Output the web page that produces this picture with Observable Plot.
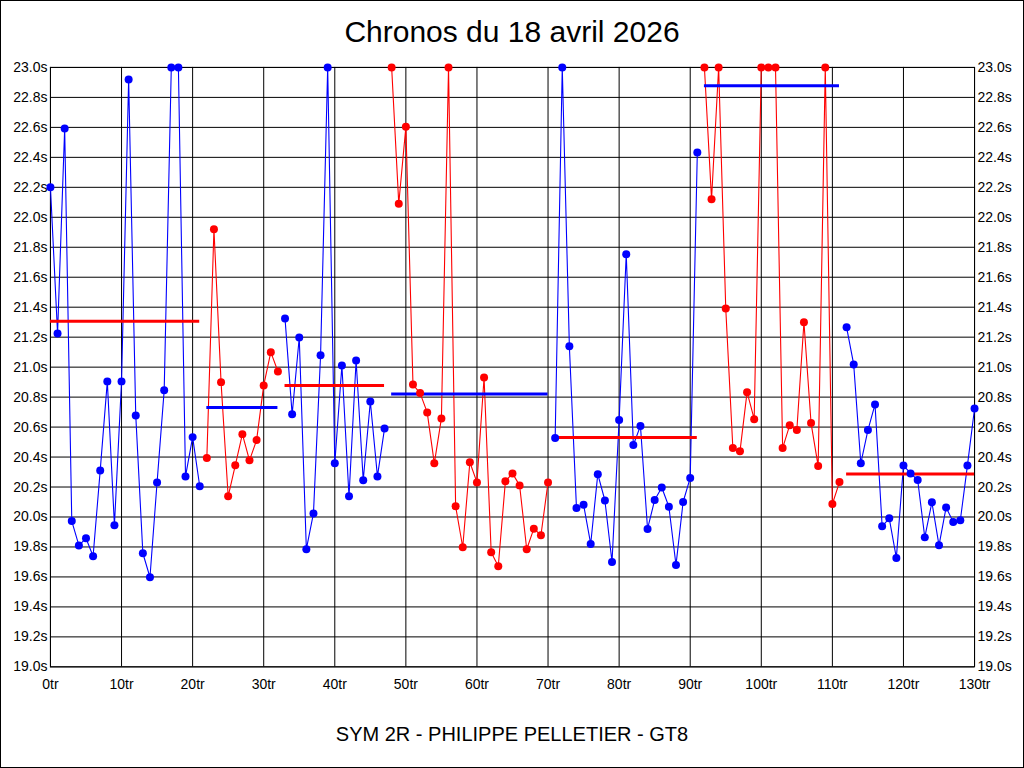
<!DOCTYPE html>
<html>
<head>
<meta charset="utf-8">
<script src="https://cdn.jsdelivr.net/npm/d3@7"></script>
<script src="https://cdn.jsdelivr.net/npm/@observablehq/plot@0.6"></script>
<style>
  html, body { margin: 0; padding: 0; background: #fff; }
  #wrap { position: relative; width: 1024px; height: 768px; box-sizing: border-box; border: 1px solid #000; background: #fff; overflow: hidden; font-family: "Liberation Sans", Arial, sans-serif; }
  #title { position: absolute; left: 0; right: 0; top: 13px; text-align: center; font-size: 30px; color: #000; line-height: 36px; }
  #caption { position: absolute; left: 0; right: 0; top: 721px; text-align: center; font-size: 20px; color: #000; line-height: 24px; }
  #chart { position: absolute; left: -1px; top: -1px; }
</style>
</head>
<body>
<div id="wrap">
  <div id="chart"></div>
  <div id="title">Chronos du 18 avril 2026</div>
  <div id="caption">SYM 2R - PHILIPPE PELLETIER - GT8</div>
</div>
<script>
// Lap times (seconds) for laps 0..130 (values above 23.0 are shown at the top edge)
const lapTimes = [
  22.2, 21.225, 22.593, 19.973, 19.81, 19.858, 19.738, 20.311, 20.905, 19.945,
  20.905, 22.92, 20.678, 19.758, 19.598, 20.231, 20.845, 23.0, 23.0, 20.271,
  20.533, 20.205, 20.393, 21.92, 20.9, 20.138, 20.345, 20.553, 20.378, 20.513,
  20.878, 21.1, 20.971, 21.324, 20.685, 21.198, 19.785, 20.024, 21.08, 23.0,
  20.358, 21.011, 20.138, 21.044, 20.245, 20.771, 20.271, 20.591, 23.0, 22.091,
  22.604, 20.884, 20.827, 20.698, 20.358, 20.658, 23.0, 20.071, 19.798, 20.365,
  20.231, 20.931, 19.765, 19.671, 20.238, 20.291, 20.211, 19.785, 19.922, 19.878,
  20.231, 20.527, 23.0, 21.14, 20.06, 20.082, 19.82, 20.286, 20.11, 19.70,
  20.647, 21.753, 20.48, 20.608, 19.92, 20.114, 20.197, 20.068, 19.68, 20.10,
  20.261, 22.433, 23.0, 22.12, 23.0, 21.391, 20.46, 20.438, 20.833, 20.653,
  23.0, 23.0, 23.0, 20.46, 20.613, 20.58, 21.3, 20.627, 20.34, 23.0,
  20.087, 20.233, 21.266, 21.018, 20.358, 20.58, 20.751, 19.938, 19.991, 19.727,
  20.344, 20.291, 20.247, 19.864, 20.098, 19.811, 20.064, 19.967, 19.978, 20.344,
  20.724
];
// Stints: first lap of each stint, its colour, and the average line value (drawn in the other colour)
const stintStarts = [0, 22, 33, 48, 71, 92, 112];
const stintColors = ["#0000ff", "#ff0000", "#0000ff", "#ff0000", "#0000ff", "#ff0000", "#0000ff"];
const stintAverages = [21.307, 20.731, 20.878, 20.82, 20.53, 22.878, 20.287];
const averageColors = ["#ff0000", "#0000ff", "#ff0000", "#0000ff", "#ff0000", "#0000ff", "#ff0000"];
// Axis ticks
const xTicks = [0, 10, 20, 30, 40, 50, 60, 70, 80, 90, 100, 110, 120, 130];
const yTicks = [19.0, 19.2, 19.4, 19.6, 19.8, 20.0, 20.2, 20.4, 20.6, 20.8, 21.0, 21.2, 21.4, 21.6, 21.8, 22.0, 22.2, 22.4, 22.6, 22.8, 23.0];

const lastLap = lapTimes.length - 1;
const data = lapTimes.map((t, lap) => {
  let s = 0;
  for (let i = 0; i < stintStarts.length; i++) if (lap >= stintStarts[i]) s = i;
  return { lap, time: t, stint: s, color: stintColors[s] };
});
const avgs = stintStarts.map((start, i) => ({
  x1: start,
  x2: i + 1 < stintStarts.length ? stintStarts[i + 1] - 1 : lastLap,
  y: stintAverages[i],
  color: averageColors[i]
}));

const chart = Plot.plot({
  width: 1024,
  height: 768,
  marginLeft: 50,
  marginRight: 49,
  marginTop: 67,
  marginBottom: 101,
  style: { fontFamily: "'Liberation Sans', Arial, sans-serif", fontSize: "14px", color: "#000", background: "transparent", overflow: "visible" },
  x: { domain: [0, 130] },
  y: { domain: [19, 23] },
  color: { type: "identity" },
  marks: [
    Plot.gridX(xTicks, { stroke: "#000", strokeOpacity: 1, strokeWidth: 1 }),
    Plot.gridY(yTicks, { stroke: "#000", strokeOpacity: 1, strokeWidth: 1 }),
    Plot.frame({ stroke: "#000", strokeWidth: 1 }),
    Plot.axisX(xTicks, { anchor: "bottom", tickSize: 0, tickPadding: 12, tickFormat: d => d + "tr", fontSize: 14, label: null }),
    Plot.axisY(yTicks, { anchor: "left", tickSize: 0, tickPadding: 3, tickFormat: d => d.toFixed(1) + "s", fontSize: 14, label: null }),
    Plot.axisY(yTicks, { anchor: "right", tickSize: 0, tickPadding: 3, tickFormat: d => d.toFixed(1) + "s", fontSize: 14, label: null }),
    Plot.line(data, { x: "lap", y: "time", z: "stint", stroke: "color", strokeWidth: 1.1, curve: "linear" }),
    Plot.ruleY(avgs, { y: "y", x1: "x1", x2: "x2", stroke: "color", strokeWidth: 3 }),
    Plot.dot(data, { x: "lap", y: "time", fill: "color", stroke: "none", r: 4 })
  ]
});
document.getElementById("chart").appendChild(chart);
</script>
</body>
</html>
